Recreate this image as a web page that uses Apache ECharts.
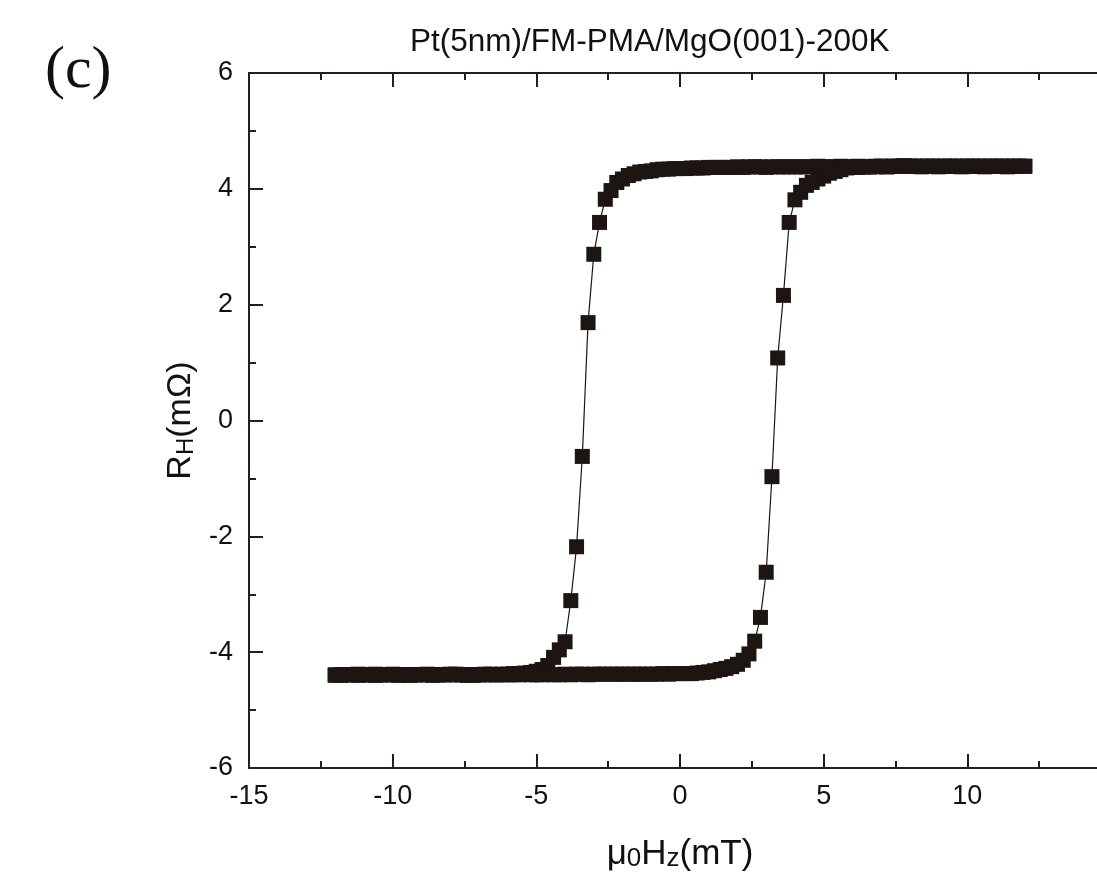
<!DOCTYPE html>
<html>
<head>
<meta charset="utf-8">
<script src="https://cdn.jsdelivr.net/npm/echarts@6/dist/echarts.min.js"></script>
<style>
html,body{margin:0;padding:0;background:#fff;}
#chart{width:1097px;height:879px;}
</style>
</head>
<body>
<div id="chart"></div>
<script>
// Applied field (mT), shared by both sweep branches
const field = [
  -12.0,-11.8,-11.6,-11.4,-11.2,-11.0,-10.8,-10.6,-10.4,
  -10.2,-10.0,-9.8,-9.6,-9.4,-9.2,-9.0,-8.8,-8.6,-8.4,
  -8.2,-8.0,-7.8,-7.6,-7.4,-7.2,-7.0,-6.8,-6.6,-6.4,
  -6.2,-6.0,-5.8,-5.6,-5.4,-5.2,-5.0,-4.8,-4.6,-4.4,
  -4.2,-4.0,-3.8,-3.6,-3.4,-3.2,-3.0,-2.8,-2.6,-2.4,
  -2.2,-2.0,-1.8,-1.6,-1.4,-1.2,-1.0,-0.8,-0.6,-0.4,
  -0.2,0.0,0.2,0.4,0.6,0.8,1.0,1.2,1.4,1.6,
  1.8,2.0,2.2,2.4,2.6,2.8,3.0,3.2,3.4,3.6,
  3.8,4.0,4.2,4.4,4.6,4.8,5.0,5.2,5.4,5.6,
  5.8,6.0,6.2,6.4,6.6,6.8,7.0,7.2,7.4,7.6,
  7.8,8.0,8.2,8.4,8.6,8.8,9.0,9.2,9.4,9.6,
  9.8,10.0,10.2,10.4,10.6,10.8,11.0,11.2,11.4,11.6,
  11.8,12.0
];
// Hall resistance (mOhm), sweep from +H to -H
const rhDown = [
  -4.39,-4.40,-4.39,-4.39,-4.38,-4.39,-4.39,-4.40,-4.39,
  -4.39,-4.38,-4.39,-4.39,-4.40,-4.39,-4.39,-4.38,-4.39,-4.39,
  -4.39,-4.39,-4.38,-4.39,-4.40,-4.39,-4.39,-4.38,-4.38,-4.39,
  -4.38,-4.38,-4.37,-4.37,-4.36,-4.35,-4.33,-4.30,-4.23,-4.09,
  -3.96,-3.82,-3.11,-2.18,-0.62,1.69,2.87,3.42,3.82,3.97,
  4.11,4.17,4.23,4.26,4.29,4.30,4.31,4.33,4.34,4.34,
  4.35,4.35,4.35,4.36,4.36,4.36,4.37,4.37,4.37,4.37,
  4.37,4.38,4.37,4.38,4.38,4.38,4.37,4.38,4.38,4.38,
  4.38,4.38,4.38,4.38,4.38,4.39,4.38,4.38,4.38,4.39,
  4.38,4.38,4.39,4.38,4.38,4.39,4.39,4.38,4.39,4.39,
  4.40,4.39,4.39,4.38,4.39,4.39,4.38,4.39,4.39,4.39,
  4.38,4.39,4.39,4.39,4.38,4.39,4.39,4.39,4.38,4.39,
  4.39,4.39
];
// Hall resistance (mOhm), sweep from -H to +H
const rhUp = [
  -4.40,-4.39,-4.39,-4.39,-4.40,-4.39,-4.39,-4.38,-4.39,
  -4.39,-4.39,-4.40,-4.39,-4.39,-4.39,-4.39,-4.39,-4.40,-4.39,
  -4.39,-4.38,-4.39,-4.39,-4.39,-4.40,-4.39,-4.39,-4.39,-4.39,
  -4.39,-4.39,-4.39,-4.39,-4.38,-4.39,-4.39,-4.39,-4.38,-4.39,
  -4.39,-4.38,-4.39,-4.38,-4.38,-4.39,-4.38,-4.38,-4.38,-4.38,
  -4.38,-4.38,-4.38,-4.38,-4.38,-4.38,-4.38,-4.38,-4.37,-4.38,
  -4.37,-4.37,-4.37,-4.37,-4.36,-4.35,-4.34,-4.32,-4.30,-4.28,
  -4.25,-4.21,-4.14,-4.03,-3.81,-3.40,-2.62,-0.97,1.08,2.16,
  3.42,3.81,3.94,4.06,4.11,4.17,4.22,4.27,4.30,4.33,
  4.36,4.37,4.37,4.38,4.38,4.38,4.39,4.38,4.39,4.39,
  4.39,4.39,4.39,4.39,4.39,4.39,4.39,4.39,4.39,4.39,
  4.39,4.39,4.39,4.39,4.39,4.39,4.39,4.39,4.39,4.39,
  4.39,4.39
];
const xTicks = {min: -15, max: 15, interval: 5};
const yTicks = {min: -6, max: 6, interval: 2};
const titleText = 'Pt(5nm)/FM-PMA/MgO(001)-200K';
const panelLabel = '(c)';

const ink = '#1c1512';
const axisInk = '#231f20';
const downData = field.map((x, i) => [x, rhDown[i]]);
const upData = field.map((x, i) => [x, rhUp[i]]);

const baseAxis = {
  axisLine: {show: true, onZero: false, lineStyle: {color: axisInk, width: 2}},
  axisTick: {show: true, inside: true, length: 14, lineStyle: {color: axisInk, width: 2}},
  minorTick: {show: true, splitNumber: 2, length: 7, lineStyle: {color: axisInk, width: 2}},
  splitLine: {show: false},
  minorSplitLine: {show: false}
};
const labelStyle = {color: '#111111', fontFamily: 'Liberation Sans, Arial, sans-serif', fontSize: 27};

const chart = echarts.init(document.getElementById('chart'), null, {renderer: 'canvas'});
chart.setOption({
  animation: false,
  backgroundColor: '#ffffff',
  title: [
    {text: titleText, left: 410, top: 26, padding: 0,
     textStyle: {fontFamily: 'Liberation Sans, Arial, sans-serif', fontSize: 31.5, fontWeight: 'normal', color: '#111111'}},
    {text: panelLabel, left: 45, top: 41, padding: 0,
     textStyle: {fontFamily: 'Liberation Serif, Times New Roman, serif', fontSize: 60, fontWeight: 'normal', color: '#111111'}}
  ],
  grid: {left: 249, top: 73, width: 862, height: 695, containLabel: false, outerBoundsMode: 'none'},
  xAxis: [
    Object.assign({}, baseAxis, {
      type: 'value', position: 'bottom', min: xTicks.min, max: xTicks.max, interval: xTicks.interval,
      axisLabel: Object.assign({margin: 15, showMaxLabel: true, showMinLabel: true, hideOverlap: false}, labelStyle),
      name: '{a|\u03bc}{s|0}{a|H}{s|z}{a|(mT)}',
      nameLocation: 'middle', nameGap: 66,
      nameTextStyle: {
        rich: {
          a: {fontFamily: 'Liberation Sans, Arial, sans-serif', fontSize: 35, color: '#111111', verticalAlign: 'bottom', lineHeight: 38},
          s: {fontFamily: 'Liberation Sans, Arial, sans-serif', fontSize: 26, color: '#111111', verticalAlign: 'bottom', lineHeight: 38}
        }
      }
    }),
    Object.assign({}, baseAxis, {
      type: 'value', position: 'top', min: xTicks.min, max: xTicks.max, interval: xTicks.interval,
      axisLabel: {show: false}
    })
  ],
  yAxis: [
    Object.assign({}, baseAxis, {
      type: 'value', position: 'left', min: yTicks.min, max: yTicks.max, interval: yTicks.interval,
      axisLabel: Object.assign({margin: 16, showMaxLabel: true, showMinLabel: true}, labelStyle),
      name: '{a|R}{s|H}{a|(m\u03a9)}',
      nameLocation: 'middle', nameGap: 48, nameRotate: 90,
      nameTextStyle: {
        rich: {
          a: {fontFamily: 'Liberation Sans, Arial, sans-serif', fontSize: 34, color: '#111111', verticalAlign: 'bottom', lineHeight: 36},
          s: {fontFamily: 'Liberation Sans, Arial, sans-serif', fontSize: 24, color: '#111111', verticalAlign: 'bottom', lineHeight: 36}
        }
      }
    }),
    Object.assign({}, baseAxis, {
      type: 'value', position: 'right', min: yTicks.min, max: yTicks.max, interval: yTicks.interval,
      axisLabel: {show: false}
    })
  ],
  series: [
    {
      name: 'down', type: 'line', data: downData, xAxisIndex: 0, yAxisIndex: 0,
      symbol: 'rect', symbolSize: 15, showAllSymbol: true,
      lineStyle: {color: ink, width: 1.2}, itemStyle: {color: ink, borderWidth: 0}
    },
    {
      name: 'up', type: 'line', data: upData, xAxisIndex: 0, yAxisIndex: 0,
      symbol: 'rect', symbolSize: 15, showAllSymbol: true,
      lineStyle: {color: ink, width: 1.2}, itemStyle: {color: ink, borderWidth: 0}
    }
  ]
});
</script>
</body>
</html>
